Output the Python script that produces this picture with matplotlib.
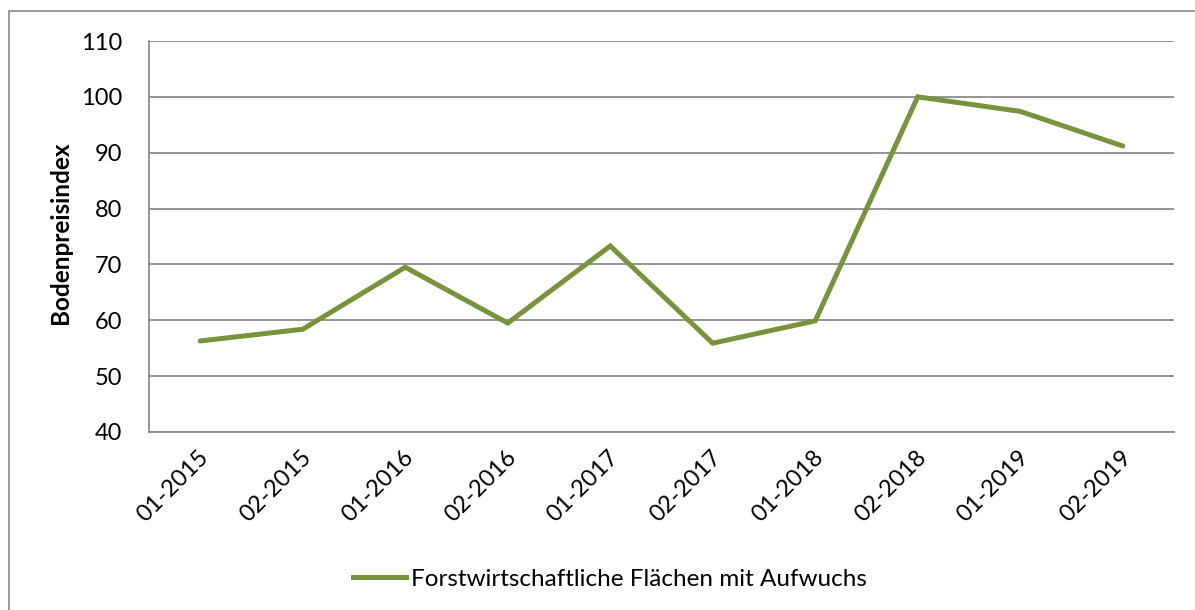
import matplotlib
matplotlib.use("Agg")
import matplotlib.pyplot as plt
from matplotlib.patches import Rectangle
from matplotlib.lines import Line2D
import matplotlib.transforms as mtransforms

categories = ["01-2015", "02-2015", "01-2016", "02-2016", "01-2017",
              "02-2017", "01-2018", "02-2018", "01-2019", "02-2019"]
values = [56.3, 58.4, 69.5, 59.5, 73.3, 55.9, 59.9, 100.0, 97.4, 91.2]
series_name = "Forstwirtschaftliche Flächen mit Aufwuchs"
y_ticks = [40, 50, 60, 70, 80, 90, 100, 110]

plt.rcParams['font.family'] = ['Lato', 'DejaVu Sans']

W, H = 1195, 610
fig = plt.figure(figsize=(W / 100, H / 100), dpi=100)
fig.patches.append(Rectangle((9 / W, -0.1), 1.2, (H - 11) / H + 0.1,
                             transform=fig.transFigure, fill=False,
                             edgecolor='#8a8a8a', lw=1.2))

ax = fig.add_axes([149 / W, 1 - 432 / H, (1174 - 149) / W, (432 - 41) / H])
x = list(range(len(categories)))
line, = ax.plot(x, values, color='#77933C', lw=3.6, solid_joinstyle='miter',
                solid_capstyle='round')
ax.set_xlim(-0.5, len(categories) - 0.5)
ax.set_ylim(40, 110)
ax.set_yticks(y_ticks)
ax.yaxis.grid(True, color='#8c8c8c', lw=1.3)
ax.set_axisbelow(True)
for s in ['top', 'right']:
    ax.spines[s].set_visible(False)
ax.spines['left'].set_color('#8c8c8c')
ax.spines['bottom'].set_color('#8c8c8c')
ax.spines['left'].set_linewidth(1.3)
ax.spines['bottom'].set_linewidth(1.3)
ax.tick_params(axis='both', length=0, labelsize=17, colors='black')
ax.tick_params(axis='y', pad=19)
ax.set_xticks(x)
ax.set_xticklabels(categories, rotation=45, ha='right', va='center',
                   rotation_mode='anchor')
ax.tick_params(axis='x', pad=16)
offset = mtransforms.ScaledTranslation(5 / 100, 0, fig.dpi_scale_trans)
for lbl in ax.get_xticklabels():
    lbl.set_transform(lbl.get_transform() + offset)
ax.set_ylabel("Bodenpreisindex", fontsize=17.5, fontweight='bold')
ax.yaxis.set_label_coords(72 / W, 1 - 233 / H, transform=fig.transFigure)

handle = Line2D([], [], color='#77933C', lw=3.6)
fig.legend([handle], [series_name], loc='center', bbox_to_anchor=(610 / W, 1 - 579 / H),
           frameon=False, fontsize=17.5, handlelength=2.2, handletextpad=0.2)

fig.savefig("out.png", dpi=100)
